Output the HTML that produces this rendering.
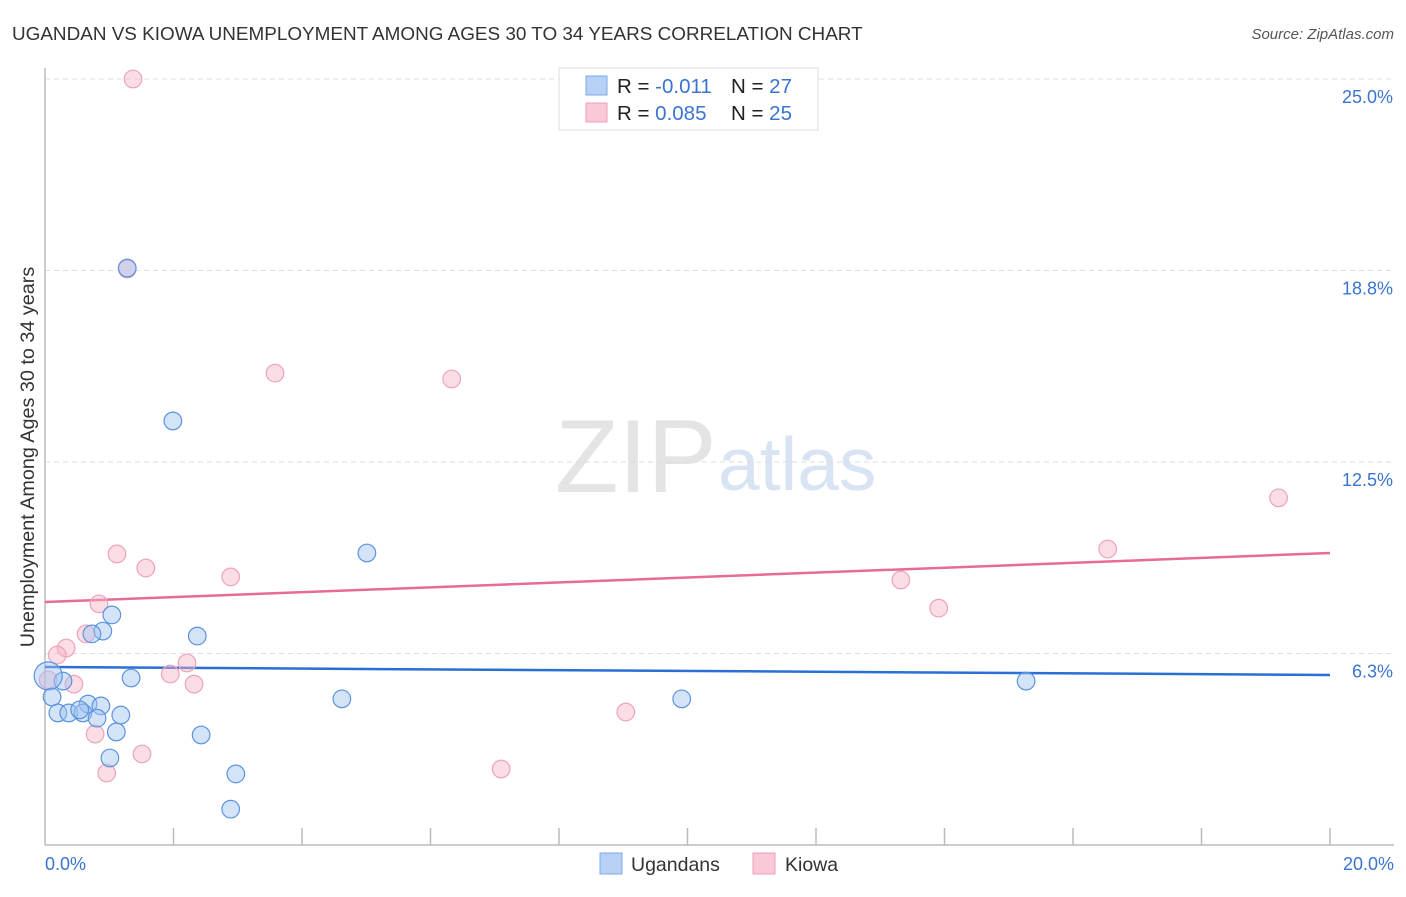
<!DOCTYPE html>
<html><head><meta charset="utf-8"><style>
body{margin:0;background:#fff;font-family:"Liberation Sans",sans-serif;}
svg text{font-family:"Liberation Sans",sans-serif;}
</style></head><body>
<svg id="chart" width="1406" height="892" xmlns="http://www.w3.org/2000/svg">
<text x="12" y="40" font-size="18.9" fill="#333">UGANDAN VS KIOWA UNEMPLOYMENT AMONG AGES 30 TO 34 YEARS CORRELATION CHART</text>
<text x="1394" y="39" font-size="15" fill="#555" font-style="italic" text-anchor="end">Source: ZipAtlas.com</text>
<text x="0" y="0" font-size="19.8" fill="#333" text-anchor="middle" transform="translate(34,457) rotate(-90)">Unemployment Among Ages 30 to 34 years</text>
<text x="555" y="492" font-size="104" fill="#e4e4e4" font-family="Liberation Serif">ZIP</text>
<text x="718" y="490" font-size="75" fill="#d8e4f3">atlas</text>
<g id="grid"></g>
<line x1="45" y1="68" x2="45" y2="845" stroke="#bbb" stroke-width="1.5"/>
<line x1="45" y1="845" x2="1394" y2="845" stroke="#bbb" stroke-width="1.5"/>
<g id="xticks"></g>
<g id="trends"></g>
<g id="points"></g>
<text x="45" y="870" font-size="18" fill="#3a74d0">0.0%</text>
<text x="1394" y="870" font-size="18" fill="#3a74d0" text-anchor="end">20.0%</text>
<g>
<rect x="559" y="68" width="259" height="62" fill="#fff" stroke="#ddd"/>
<rect x="586" y="76" width="21" height="19" fill="#b7d1f5" stroke="#7ea9e8"/>
<rect x="586" y="103" width="21" height="19" fill="#f9c9d7" stroke="#ee9fb6"/>
<text x="617" y="93" font-size="20.5" fill="#222">R = <tspan fill="#3a74d0">-0.011</tspan><tspan x="731">N = </tspan><tspan fill="#3a74d0">27</tspan></text>
<text x="617" y="120" font-size="20.5" fill="#222">R = <tspan fill="#3a74d0"> 0.085</tspan><tspan x="731">N = </tspan><tspan fill="#3a74d0">25</tspan></text>
</g>
<g>
<rect x="600" y="853" width="22" height="21" fill="#b7d1f5" stroke="#7ea9e8"/>
<text x="631" y="871" font-size="19.5" fill="#333">Ugandans</text>
<rect x="753" y="853" width="22" height="21" fill="#f9c9d7" stroke="#ee9fb6"/>
<text x="785" y="871" font-size="19.5" fill="#333">Kiowa</text>
</g>
</svg>
<script>
const yTicks=[6.25,12.5,18.75,25];
const yTickLabels=["6.3%","12.5%","18.8%","25.0%"];
const xTicks=[0,2,4,6,8,10,12,14,16,18,20];
const ugX=[1.28,1.99,5.01,1.04,0.90,0.73,2.37,1.34,0.28,0.05,0.11,4.62,9.91,15.27,0.67,0.87,0.20,0.37,0.59,0.81,1.18,1.11,2.43,1.01,2.97,2.89,0.54];
const ugY=[18.83,13.84,9.53,7.51,6.98,6.89,6.82,5.45,5.35,5.52,4.83,4.77,4.77,5.35,4.60,4.54,4.31,4.31,4.31,4.14,4.24,3.69,3.59,2.84,2.32,1.17,4.41];
const kiX=[1.37,1.28,3.58,6.33,1.12,1.57,2.89,13.32,13.91,16.54,19.20,0.84,0.64,0.33,0.19,0.05,0.45,2.21,1.95,2.32,0.78,1.51,0.96,7.10,9.04];
const kiY=[25.0,18.80,15.40,15.21,9.50,9.04,8.75,8.65,7.73,9.66,11.33,7.87,6.89,6.43,6.20,5.39,5.25,5.94,5.58,5.25,3.62,2.97,2.35,2.48,4.34];
const ugTrend=[5.81,5.55];
const kiTrend=[7.93,9.53];
const NS="http://www.w3.org/2000/svg";
const sx=v=>45+v/20*1285;
const sy=v=>845-v*30.64;
function mk(tag,attrs,parent){const e=document.createElementNS(NS,tag);for(const k in attrs)e.setAttribute(k,attrs[k]);document.getElementById(parent).appendChild(e);return e;}
yTicks.forEach((t,i)=>{
  const l=mk('line',{x1:45,x2:1394,y1:sy(t),y2:sy(t),stroke:'#ddd','stroke-dasharray':'5,4'},'grid');
  
  
  const tx=mk('text',{x:1393,y:sy(t)+24,'font-size':18,fill:'#3a74d0','text-anchor':'end'},'grid');
  tx.textContent=yTickLabels[i];
  
  
});
xTicks.forEach(t=>{
  if(t===0)return;
  const l=mk('line',{x1:sx(t),x2:sx(t),y1:828,y2:845,stroke:'#bbb','stroke-width':1.5},'xticks');
  
  
});
let t1=mk('line',{x1:sx(0),x2:sx(20),y1:sy(ugTrend[0]),y2:sy(ugTrend[1]),stroke:'#2a6fd6','stroke-width':2.5},'trends');


let t2=mk('line',{x1:sx(0),x2:sx(20),y1:sy(kiTrend[0]),y2:sy(kiTrend[1]),stroke:'#e76b93','stroke-width':2.5},'trends');


kiX.forEach((x,i)=>{
  const c=mk('circle',{cx:sx(x),cy:sy(kiY[i]),r:8.8,fill:'rgba(246,180,200,0.45)',stroke:'#eea3ba','stroke-width':1.2},'points');
  
  
});
ugX.forEach((x,i)=>{
  const c=mk('circle',{cx:sx(x),cy:sy(ugY[i]),r:i===9?14:8.8,fill:'rgba(160,196,240,0.45)',stroke:'#5b93e0','stroke-width':1.2},'points');
  
  
});
</script>
</body></html>
